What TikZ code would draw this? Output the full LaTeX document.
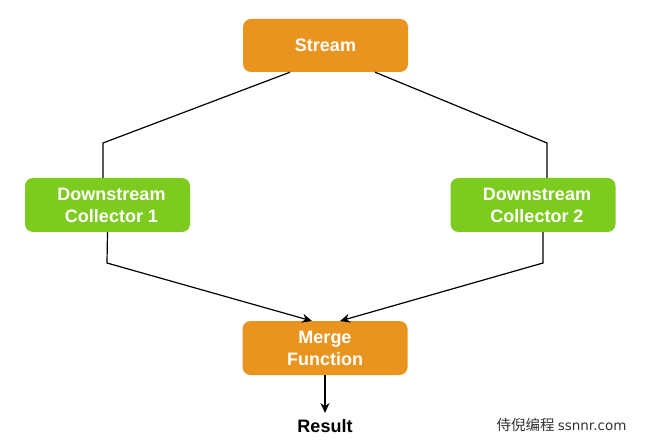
\documentclass[tikz,border=0pt]{standalone}
\usepackage{fontspec}
\setmainfont{Liberation Sans}
\newfontfamily\cjk{Noto Sans CJK SC}
\newfontfamily\wmlatin{DejaVu Sans}
\usetikzlibrary{arrows.meta}
\definecolor{boxorange}{RGB}{234,148,32}
\definecolor{boxgreen}{RGB}{126,203,32}
\tikzset{
  obox/.style={fill=boxorange, rounded corners=8pt, minimum width=165pt, minimum height=53pt, text=white, font=\bfseries\fontsize{18}{22}\selectfont, align=center, inner sep=0pt},
  gbox/.style={obox, fill=boxgreen, minimum width=165pt, minimum height=54pt},
  conn/.style={draw=black, line width=1.2pt},
  arr/.style={conn, -{Stealth[length=10pt,width=9pt]}}
}
\begin{document}
\begin{tikzpicture}[x=1pt,y=1pt]
\useasboundingbox (0,0) rectangle (650,442);
\fill[white] (0,0) rectangle (650,442);
\node[obox] (stream) at (325.5,396.5) {Stream};
\node[gbox] (dc1) at (107.5,237) {\hspace*{8pt}Downstream\\\hspace*{8pt}Collector 1};
\node[gbox] (dc2) at (533,237) {\hspace*{8pt}Downstream\\\hspace*{8pt}Collector 2};
\node[obox, minimum height=54pt] (merge) at (325,94) {Merge\\Function};
\node[font=\bfseries\fontsize{18}{20}\selectfont] (result) at (325,16) {Result};
\node[font=\cjk\fontsize{14.5}{16}\selectfont, text=black!80, anchor=west] (wm) at (493,17) {侍倪编程 {\wmlatin\fontsize{13.5}{16}\selectfont ssnnr.com}};
\coordinate (l1) at (103,299);
\coordinate (r1) at (547,299);
\coordinate (l2) at (107,179);
\coordinate (r2) at (543,179);
\draw[conn] (stream.south west -| 290,0) -- (l1) -- (l1 |- dc1.north);
\draw[conn] (stream.south west -| 375,0) -- (r1) -- (r1 |- dc2.north);
\draw[arr] (dc1.south) -- (l2) -- (312,121);
\draw[arr] (dc2.south -| 543,0) -- (r2) -- (340,121);
\draw[arr] (merge.south) -- (325,29);
\end{tikzpicture}
\end{document}
